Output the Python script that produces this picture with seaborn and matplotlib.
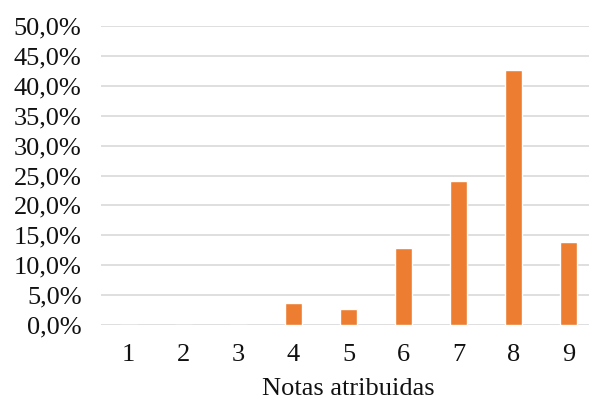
import matplotlib
matplotlib.use("Agg")
import matplotlib.pyplot as plt
import seaborn as sns
import pandas as pd
from matplotlib.ticker import FuncFormatter, MultipleLocator

notas = ["1", "2", "3", "4", "5", "6", "7", "8", "9"]
percentuais = [0.0, 0.0, 0.0, 3.6, 2.7, 12.9, 24.0, 42.6, 13.9]

df = pd.DataFrame({"nota": notas, "pct": percentuais})

sns.set_theme(style="white")
plt.rcParams["font.family"] = ["Liberation Serif", "DejaVu Serif"]

W, H = 589, 401
fig = plt.figure(figsize=(W / 100, H / 100), dpi=100)
ax = fig.add_axes([101 / W, 76 / H, 495 / W, 299 / H])

sns.barplot(data=df, x="nota", y="pct", color="#ED7D31", width=0.31,
            saturation=1, ax=ax, zorder=3)

ax.set_ylim(0, 50)
ax.yaxis.set_major_locator(MultipleLocator(5))
ax.yaxis.set_major_formatter(FuncFormatter(lambda v, _: f"{v:.1f}".replace(".", ",") + "%"))
ax.grid(axis="y", color="#d9d9d9", linewidth=1.2, zorder=0)
ax.set_axisbelow(True)
for s in ax.spines.values():
    s.set_visible(False)

ax.tick_params(axis="both", length=0, labelsize=19, colors="#111111")
ax.tick_params(axis="y", pad=14)
ax.tick_params(axis="x", pad=14)
ax.set_ylabel("")
ax.set_xlabel("Notas atribuidas", fontsize=19, color="#111111", labelpad=8)
ax.set_xlim(-0.5, 8.5)

fig.savefig("out.png", dpi=100)
